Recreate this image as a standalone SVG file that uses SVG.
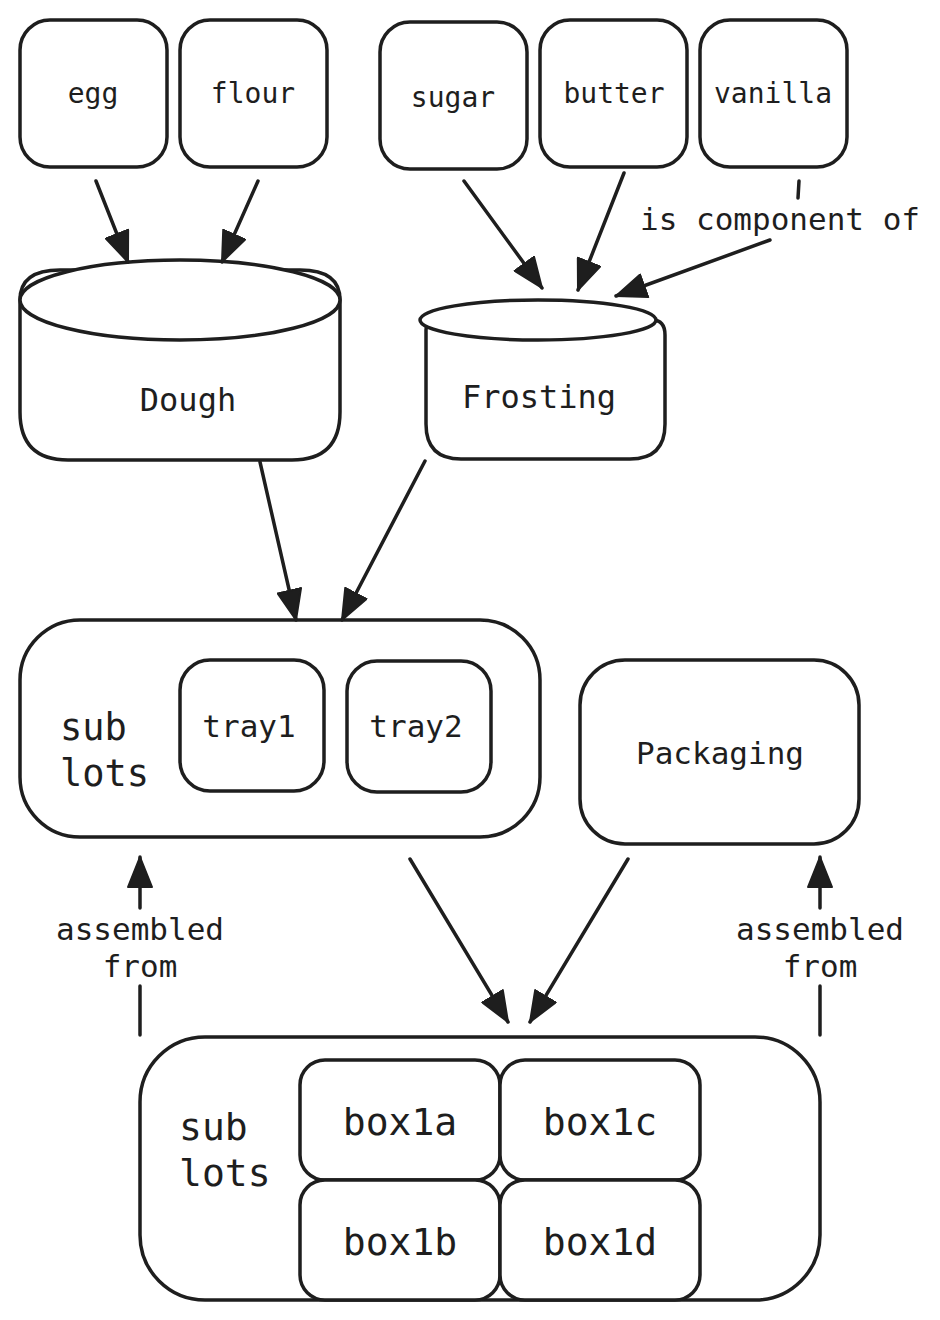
<svg xmlns="http://www.w3.org/2000/svg" width="940" height="1320" viewBox="0 0 940 1320">
<style>
.s{fill:#fff;stroke:#1e1e1e;stroke-width:3.5;stroke-linejoin:round}
.t{font-family:"DejaVu Sans Mono","Liberation Mono",monospace;fill:#1e1e1e;text-anchor:middle}
.l{font-family:"DejaVu Sans Mono","Liberation Mono",monospace;fill:#1e1e1e}
.c{fill:none;stroke:#1e1e1e;stroke-width:3.5;stroke-linecap:round}
</style>
<defs>
<marker id="ah" viewBox="0 0 32 26" refX="31" refY="13" markerWidth="32" markerHeight="26" markerUnits="userSpaceOnUse" orient="auto">
<path d="M1,1 L31,13 L1,25 Z" fill="#1e1e1e" stroke="#1e1e1e" stroke-width="2" stroke-linejoin="round"/>
</marker>
</defs>
<rect width="940" height="1320" fill="#fff"/>

<g id="egg"><rect class="s" x="20" y="20" width="147" height="147" rx="30"/><text class="t" x="93" y="103" font-size="28">egg</text></g>
<g id="flour"><rect class="s" x="180" y="20" width="147" height="147" rx="30"/><text class="t" x="253" y="103" font-size="28">flour</text></g>
<g id="sugar"><rect class="s" x="380" y="22" width="147" height="147" rx="30"/><text class="t" x="453" y="107" font-size="28">sugar</text></g>
<g id="butter"><rect class="s" x="540" y="20" width="147" height="147" rx="30"/><text class="t" x="614" y="103" font-size="28">butter</text></g>
<g id="vanilla"><rect class="s" x="700" y="20" width="147" height="147" rx="30"/><text class="t" x="773" y="103" font-size="28">vanilla</text></g>

<g id="dough">
<path class="s" d="M20,300 L20,412 Q20,460 68,460 L292,460 Q340,460 340,412 L340,300 Q340,270 300,270 L60,270 Q20,270 20,300 Z"/>
<ellipse class="s" cx="180" cy="300" rx="160" ry="40"/>
<text class="t" x="188" y="411" font-size="32">Dough</text>
</g>
<g id="frosting">
<path class="s" d="M426,330 L426,424 Q426,459 461,459 L630,459 Q665,459 665,424 L665,335 Q665,320 652,320 L440,320 Q426,320 426,330 Z"/>
<ellipse class="s" cx="538" cy="320" rx="118" ry="20"/>
<text class="t" x="539" y="408" font-size="32">Frosting</text>
</g>

<g id="sublots1">
<rect class="s" x="20" y="620" width="520" height="217" rx="60"/>
<text class="l" x="60" y="740" font-size="37">sub</text>
<text class="l" x="60" y="786" font-size="37">lots</text>
</g>
<g id="tray1"><rect class="s" x="180" y="660" width="144" height="131" rx="30"/><text class="t" x="249" y="737" font-size="31">tray1</text></g>
<g id="tray2"><rect class="s" x="347" y="661" width="144" height="131" rx="30"/><text class="t" x="416" y="737" font-size="31">tray2</text></g>
<g id="packaging"><rect class="s" x="580" y="660" width="279" height="184" rx="45"/><text class="t" x="720" y="764" font-size="31">Packaging</text></g>

<g id="sublots2">
<rect class="s" x="140" y="1037" width="680" height="263" rx="65"/>
<text class="l" x="179" y="1140" font-size="38">sub</text>
<text class="l" x="179" y="1186" font-size="38">lots</text>
</g>
<g id="box1a"><rect class="s" x="300" y="1060" width="200" height="120" rx="25"/><text class="t" x="400" y="1135" font-size="38">box1a</text></g>
<g id="box1c"><rect class="s" x="500" y="1060" width="200" height="120" rx="25"/><text class="t" x="600" y="1135" font-size="38">box1c</text></g>
<g id="box1b"><rect class="s" x="300" y="1180" width="200" height="120" rx="25"/><text class="t" x="400" y="1255" font-size="38">box1b</text></g>
<g id="box1d"><rect class="s" x="500" y="1180" width="200" height="120" rx="25"/><text class="t" x="600" y="1255" font-size="38">box1d</text></g>

<g id="connectors">
<line class="c" x1="96" y1="181" x2="128" y2="262" marker-end="url(#ah)"/>
<line class="c" x1="258" y1="181" x2="222" y2="262" marker-end="url(#ah)"/>
<line class="c" x1="464" y1="181" x2="542" y2="288" marker-end="url(#ah)"/>
<line class="c" x1="624" y1="173" x2="578" y2="290" marker-end="url(#ah)"/>
<line class="c" x1="799" y1="181" x2="798" y2="198"/>
<line class="c" x1="770" y1="240" x2="616" y2="296" marker-end="url(#ah)"/>
<text class="l" x="640" y="230" font-size="31">is component of</text>
<line class="c" x1="260" y1="462" x2="296" y2="620" marker-end="url(#ah)"/>
<line class="c" x1="425" y1="461" x2="342" y2="620" marker-end="url(#ah)"/>
<line class="c" x1="410" y1="859" x2="508" y2="1022" marker-end="url(#ah)"/>
<line class="c" x1="628" y1="859" x2="530" y2="1022" marker-end="url(#ah)"/>
<line class="c" x1="140" y1="1035" x2="140" y2="986"/>
<line class="c" x1="140" y1="908" x2="140" y2="857" marker-end="url(#ah)"/>
<text class="t" x="140" y="940" font-size="31">assembled</text>
<text class="t" x="140" y="977" font-size="31">from</text>
<line class="c" x1="820" y1="1035" x2="820" y2="986"/>
<line class="c" x1="820" y1="908" x2="820" y2="857" marker-end="url(#ah)"/>
<text class="t" x="820" y="940" font-size="31">assembled</text>
<text class="t" x="820" y="977" font-size="31">from</text>
</g>
</svg>
